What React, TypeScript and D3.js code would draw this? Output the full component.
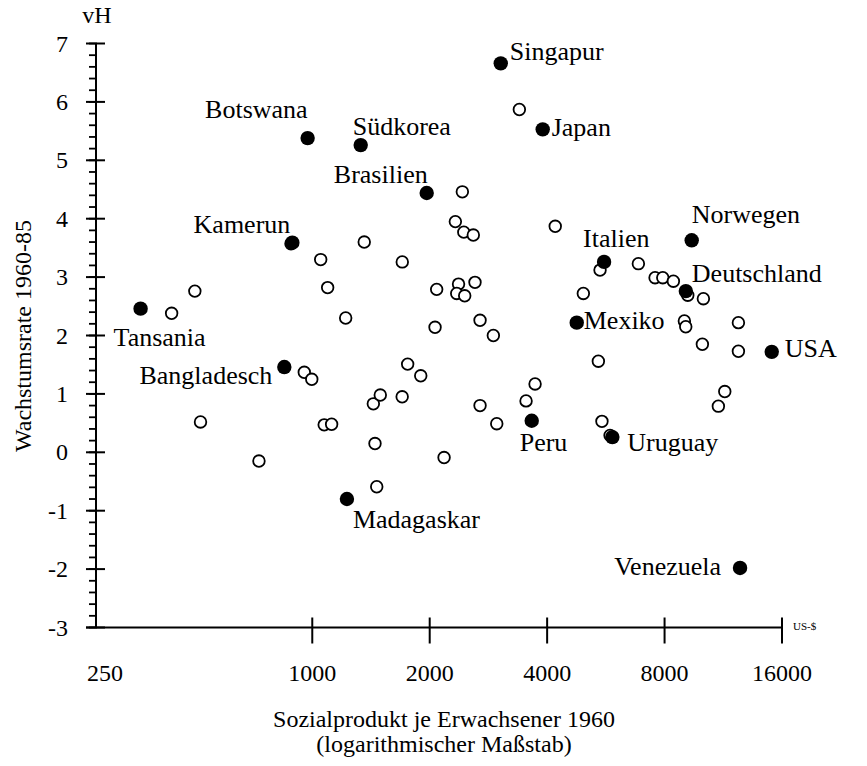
import React from 'react';
import * as d3 from 'd3';

// Sozialprodukt je Erwachsener 1960 (US-$) und Wachstumsrate 1960-85 (vH)
const countries = [
  'Tansania', 'Bangladesch', 'Kamerun', 'Botswana', 'Südkorea', 'Brasilien',
  'Singapur', 'Japan', 'Italien', 'Norwegen', 'Deutschland', 'Mexiko',
  'USA', 'Peru', 'Uruguay', 'Venezuela', 'Madagaskar',
];
const countryGdp = [
  363, 848, 889, 973, 1331, 1965, 3042, 3897, 5598, 9390, 9070, 4764,
  15060, 3652, 5878, 12490, 1227,
];
const countryGrowth = [
  2.46, 1.46, 3.59, 5.38, 5.26, 4.44, 6.66, 5.53, 3.26, 3.63, 2.76, 2.22,
  1.72, 0.54, 0.26, -1.98, -0.8,
];

// other (unnamed) countries
const otherGdp = [
  436, 500, 517, 730, 954, 997, 1051, 1095, 1218, 1359, 1701, 1073, 1121,
  1448, 1434, 1494, 1700, 1756, 1897, 1463, 2177, 2084, 2064, 2371, 2346,
  2459, 2613, 2692, 2912, 2425, 2327, 2446, 2587, 2692, 2971, 3532, 3725,
  3395, 4196, 4953, 5466, 6854, 7564, 7916, 8427, 9174, 10060, 8992, 9066,
  12370, 10000, 12370, 5412, 11414, 10990, 5528, 882, 5799,
];
const otherGrowth = [
  2.38, 2.76, 0.52, -0.15, 1.37, 1.25, 3.3, 2.82, 2.3, 3.6, 3.26, 0.47, 0.48,
  0.15, 0.83, 0.98, 0.95, 1.51, 1.31, -0.59, -0.09, 2.79, 2.14, 2.88, 2.72,
  2.68, 2.91, 2.26, 2.0, 4.46, 3.95, 3.77, 3.72, 0.8, 0.49, 0.88, 1.17,
  5.87, 3.87, 2.72, 3.12, 3.23, 2.99, 2.99, 2.93, 2.69, 2.63, 2.25, 2.15,
  2.22, 1.85, 1.73, 1.56, 1.04, 0.79, 0.53, 3.57, 0.29,
];

const xTicks = [1000, 2000, 4000, 8000, 16000];
const xOriginLabel = '250';
const yTicks = [-3, -2, -1, 0, 1, 2, 3, 4, 5, 6, 7];

// label placement next to each named point
const labelPos: [number, number, 'start' | 'end'][] = [
  [-27, 37, 'start'], [-12, 17, 'end'], [-2, -10, 'end'], [0, -20, 'end'],
  [-8, -10, 'start'], [1, -10, 'end'], [9, -3, 'start'], [9, 7, 'start'],
  [-21, -15, 'start'], [0, -17, 'start'], [6, -9, 'start'], [7, 6, 'start'],
  [13, 5, 'start'], [-12, 30, 'start'], [15, 14, 'start'], [-19, 7, 'end'],
  [6, 29, 'start'],
];

const W = 867;
const H = 766;
const FONT = '"Liberation Serif", "Times New Roman", serif';

export default function App() {
  const x = d3.scaleLog().domain([279, 16000]).range([96, 782]);
  const y = d3.scaleLinear().domain([-3, 7]).range([627.5, 43.5]);
  const minor = d3.range(-3, 7.0001, 0.2);
  const x0 = x.range()[0];
  const yBase = y(-3);

  return (
    <svg width={W} height={H} style={{ position: 'absolute', left: 0, top: 0, background: '#fff' }}
      fontFamily={FONT}>
      {/* y axis */}
      <line x1={x0} x2={x0} y1={y(7)} y2={yBase} stroke="#000" strokeWidth={2} />
      {minor.map((v, i) => (
        <line key={'m' + i} x1={x0 - 7} x2={x0 + 1} y1={y(v)} y2={y(v)} stroke="#000" strokeWidth={1.8} />
      ))}
      {yTicks.map(v => (
        <g key={'y' + v}>
          <line x1={x0 - 10} x2={x0 + 9} y1={y(v)} y2={y(v)} stroke="#000" strokeWidth={2} />
          <text x={68} y={y(v)} dy="0.34em" textAnchor="end" fontSize={24}>{v}</text>
        </g>
      ))}
      <text x={97} y={23} textAnchor="middle" fontSize={24}>vH</text>
      <text transform="translate(31,336) rotate(-90)" textAnchor="middle" fontSize={24}>
        Wachstumsrate 1960-85
      </text>

      {/* x axis */}
      <line x1={x0 - 10} x2={x(16000)} y1={yBase} y2={yBase} stroke="#000" strokeWidth={2} />
      {xTicks.map(v => (
        <g key={'x' + v}>
          <line x1={x(v)} x2={x(v)} y1={yBase - 10} y2={yBase + 16} stroke="#000" strokeWidth={2} />
          <text x={x(v)} y={681} textAnchor="middle" fontSize={24}>{v}</text>
        </g>
      ))}
      <text x={x0 + 9} y={681} textAnchor="middle" fontSize={24}>{xOriginLabel}</text>
      <text x={793} y={630} fontSize={11}>US-$</text>
      <text x={444} y={727} textAnchor="middle" fontSize={24}>Sozialprodukt je Erwachsener 1960</text>
      <text x={444} y={752} textAnchor="middle" fontSize={24}>(logarithmischer Maßstab)</text>

      {/* other countries */}
      {otherGdp.map((g, i) => (
        <circle key={'o' + i} cx={x(g)} cy={y(otherGrowth[i])} r={5.8}
          fill="#fff" stroke="#000" strokeWidth={1.8} />
      ))}

      {/* named countries */}
      {countries.map((c, i) => {
        const cx = x(countryGdp[i]);
        const cy = y(countryGrowth[i]);
        const [dx, dy, anchor] = labelPos[i];
        return (
          <g key={c}>
            <circle cx={cx} cy={cy} r={7.2} fill="#000" />
            <text x={cx + dx} y={cy + dy} textAnchor={anchor} fontSize={26}>{c}</text>
          </g>
        );
      })}
    </svg>
  );
}
